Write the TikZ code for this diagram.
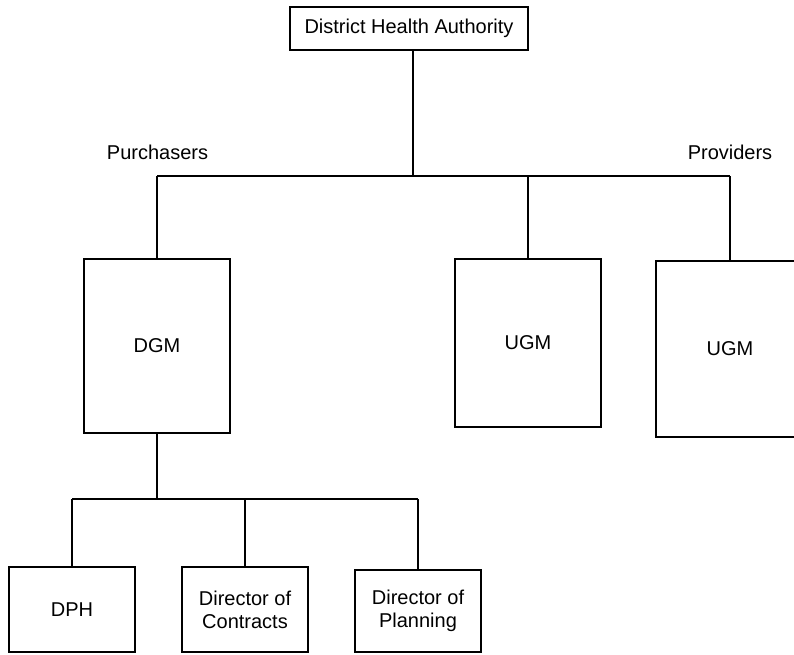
\documentclass[tikz,border=0pt]{standalone}
\usepackage{fontspec}
\setmainfont{Liberation Sans}
\usetikzlibrary{positioning}
\usetikzlibrary{calc}
\tikzstyle{post}=[draw,line width=2pt,inner sep=0pt,align=center,font=\fontsize{20}{23}\selectfont]
\tikzstyle{side}=[font=\fontsize{20}{23}\selectfont]
\tikzstyle{link}=[line width=2pt]

\begin{document}
\begin{tikzpicture}[x=1pt,y=-1pt]

  \useasboundingbox (0,0) rectangle (794,654);
  \clip (0,0) rectangle (794,654);

  % the boxes
  \node[post,minimum width=238pt,minimum height=43pt] (dha) at (409,28.5) {District Health Authority};
  \foreach \pos/\name/\w/\h/\txt in {{(157,346)/dgm/146/174/DGM}, {(528,343)/ugmA/146/168/UGM}, {(730,349)/ugmB/148/176/UGM},
        {(72,609.5)/dph/126/85/DPH}, {(245,609.5)/con/126/85/Director of\\Contracts}, {(418,611)/pla/126/82/Director of\\Planning}}
      \node[post,minimum width=\w pt,minimum height=\h pt] (\name) at \pos {\txt};

  \node[side] (purch) at (157.5,152) {Purchasers};
  \node[side] (prov) at (730,152) {Providers};

  % the tree
  \coordinate (topbus) at (413,176);
  \coordinate (lowbus) at (157,499);

  \draw[link] (topbus |- dha.south) -- (topbus);
  \draw[link] (dgm.north |- topbus) -- (ugmB.north |- topbus);
  \foreach \dest in {dgm, ugmA, ugmB}
      \draw[link] (\dest.north |- topbus) -- (\dest.north);

  \draw[link] (dgm.south) -- (lowbus);
  \draw[link] (dph.north |- lowbus) -- (pla.north |- lowbus);
  \foreach \dest in {dph, con, pla}
      \draw[link] (\dest.north |- lowbus) -- (\dest.north);

\end{tikzpicture}
\end{document}
